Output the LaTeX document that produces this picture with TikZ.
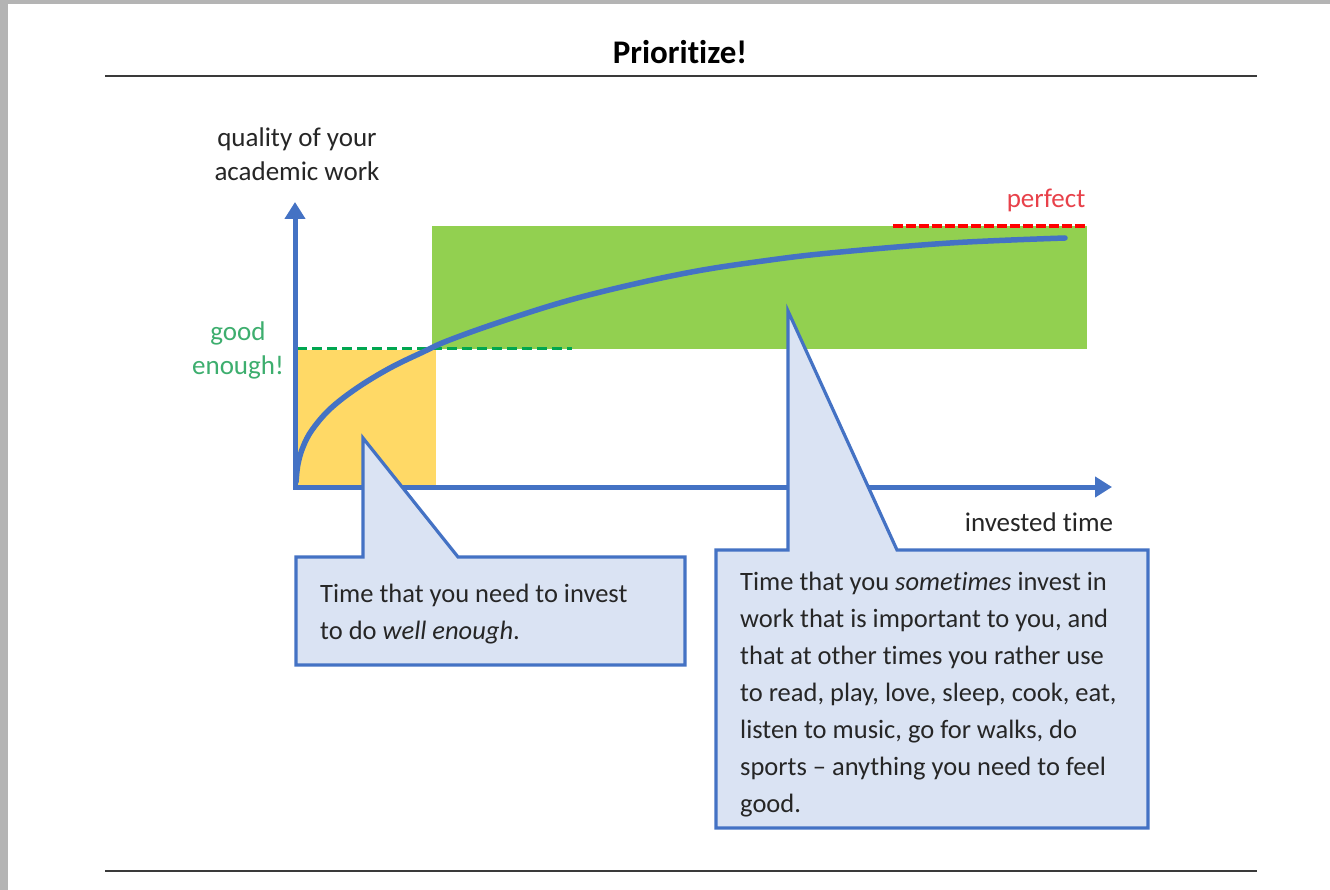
\documentclass[tikz,border=0pt]{standalone}
\usepackage{fontspec}
\setmainfont{Carlito}[Ligatures={TeX,NoCommon}]
\usetikzlibrary{arrows.meta}
\definecolor{axisblue}{HTML}{4472C4}
\definecolor{callfill}{HTML}{DAE3F3}
\definecolor{goldfill}{HTML}{FFD966}
\definecolor{greenfill}{HTML}{92D050}
\definecolor{dashgreen}{HTML}{00A650}
\definecolor{txtgreen}{HTML}{3DAE6E}
\definecolor{txtred}{HTML}{E8414A}
\definecolor{perfred}{HTML}{FF0000}
\definecolor{txtdark}{HTML}{262626}
\definecolor{framegray}{HTML}{B4B4B4}
\definecolor{rulegray}{HTML}{3A3A3A}
\begin{document}
\begin{tikzpicture}[x=1pt,y=-1pt,
  rulestyle/.style={rulegray, line width=2pt},
  axisstyle/.style={axisblue, line width=5pt, line join=miter,
    {Triangle[width=20pt,length=17pt]}-{Triangle[width=20pt,length=17pt]}},
  curvestyle/.style={axisblue, line width=5.5pt, line cap=round},
  callstyle/.style={draw=axisblue, fill=callfill, line width=3.2pt, line join=miter},
  bodytext/.style={text=txtdark, inner sep=0pt, font=\fontsize{26.5}{37}\selectfont, align=left},
  labeltext/.style={inner sep=0pt, font=\fontsize{27}{34}\selectfont, align=center}]
\useasboundingbox (0,0) rectangle (1330,890);
% page background
\fill[framegray] (0,0) rectangle (1330,890);
\fill[white] (8,4) rectangle (1330,890);
% title and rules
\node[inner sep=0pt, font=\fontsize{33}{36}\selectfont\bfseries, text=black] (title) at (680,52) {Prioritize!};
\draw[rulestyle] (105,76) -- (1257,76);
\draw[rulestyle] (105,871) -- (1257,871);
% areas
\fill[goldfill] (297,350) rectangle (436,487);
\fill[greenfill] (432,226) rectangle (1087,349);
\draw[dashgreen, line width=3pt, dash pattern=on 10pt off 5pt] (297,349) -- (572,349);
\draw[perfred, line width=4pt, dash pattern=on 10pt off 3pt] (893,226) -- (1088,226);
% curve
\draw[curvestyle] plot[smooth, tension=0.6] coordinates {(296,482) (298,464) (303,447) (312,430) (330,409) (357,388) (390,368) (423,352) (447,341) (497,323) (563,302) (630,285) (697,271) (763,261) (830,253) (950,243) (1065,238)};
% axes
\coordinate (O) at (295,487);
\coordinate (ytip) at (295,202);
\coordinate (xtip) at (1112,487);
\draw[axisstyle] (ytip) -- (O) -- (xtip);
% labels
\node[labeltext, text=txtdark] (ylabel) at (297,154) {quality of your\\academic work};
\node[labeltext, text=txtgreen] (good) at (238,350) {good\\enough!};
\node[labeltext, text=txtred] (perfect) at (1046,200) {perfect};
\node[labeltext, text=txtdark] (xlabel) at (1039,522) {invested time};
% callout 1
\draw[callstyle] (296,557) -- (363,557) -- (363,438) -- (458,557) -- (685,557) -- (685,665) -- (296,665) -- cycle;
\node[bodytext, anchor=north west] (call1) at (320,584) {Time that you need to invest\\to do \textit{well enough}.};
% callout 2
\draw[callstyle] (716,550) -- (788,550) -- (788,311) -- (897,550) -- (1148,550) -- (1148,828) -- (716,828) -- cycle;
\node[bodytext, anchor=north west] (call2) at (740,572) {Time that you \textit{sometimes} invest in\\work that is important to you, and\\that at other times you rather use\\to read, play, love, sleep, cook, eat,\\listen to music, go for walks, do\\sports -- anything you need to feel\\good.};
\end{tikzpicture}
\end{document}
